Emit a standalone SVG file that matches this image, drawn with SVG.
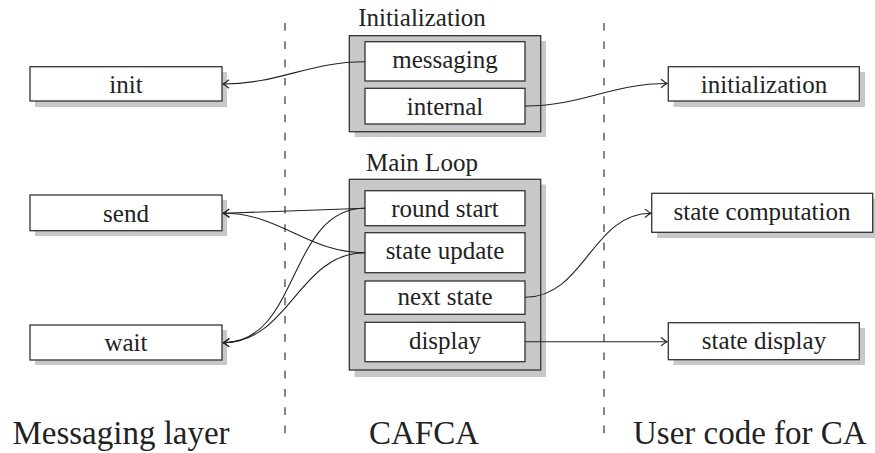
<svg xmlns="http://www.w3.org/2000/svg" width="875" height="453" viewBox="0 0 875 453">
<defs>
<marker id="arr" markerUnits="userSpaceOnUse" markerWidth="14" markerHeight="14" viewBox="-8 -7 10 14" refX="0" refY="0" orient="auto">
<path d="M-6,-4.2 Q-2,-1 0,0 Q-2,1 -6,4.2" fill="none" stroke="#222" stroke-width="1.1"/>
</marker>
</defs>
<g id="separators" stroke="#222" stroke-width="1.1" stroke-dasharray="7.7 10.6">
<line x1="285" y1="23" x2="285" y2="440"/>
<line x1="604" y1="23" x2="604" y2="440"/>
</g>
<g font-family="Liberation Serif" font-size="25" text-anchor="middle" fill="#222">
<g id="init">
<rect fill="#c8c8ca" x="35" y="72" width="192" height="35"/>
<rect fill="#fff" stroke="#333" stroke-width="1.3" x="30" y="66.7" width="192" height="34.3"/>
<text x="126" y="92.5">init</text>
</g>
<g id="send">
<rect fill="#c8c8ca" x="35" y="200" width="192" height="36"/>
<rect fill="#fff" stroke="#333" stroke-width="1.3" x="30" y="195" width="192" height="35.7"/>
<text x="126" y="222">send</text>
</g>
<g id="wait">
<rect fill="#c8c8ca" x="35" y="330" width="192" height="35"/>
<rect fill="#fff" stroke="#333" stroke-width="1.3" x="30" y="325" width="192" height="35"/>
<text x="126" y="351">wait</text>
</g>
<g id="initialization-group">
<text x="422" y="26">Initialization</text>
<rect fill="#c8c8ca" x="354.5" y="41" width="191.5" height="96"/>
<rect fill="#c8c8ca" stroke="#333" stroke-width="1.3" x="349.3" y="35.7" width="191.4" height="96"/>
</g>
<g id="messaging">
<rect fill="#fff" stroke="#333" stroke-width="1.3" x="365" y="41.7" width="160" height="39.3"/>
<text x="445" y="68.3">messaging</text>
</g>
<g id="internal">
<rect fill="#fff" stroke="#333" stroke-width="1.3" x="365" y="88.3" width="160" height="35.7"/>
<text x="445" y="115">internal</text>
</g>
<g id="mainloop-group">
<text x="422" y="171">Main Loop</text>
<rect fill="#c8c8ca" x="354.5" y="184.5" width="191.5" height="192.5"/>
<rect fill="#c8c8ca" stroke="#333" stroke-width="1.3" x="349.3" y="179.3" width="191.4" height="190.7"/>
</g>
<g id="round-start">
<rect fill="#fff" stroke="#333" stroke-width="1.3" x="365" y="190.7" width="160" height="35"/>
<text x="445" y="217.3">round start</text>
</g>
<g id="state-update">
<rect fill="#fff" stroke="#333" stroke-width="1.3" x="365" y="232.7" width="160" height="40"/>
<text x="445" y="259">state update</text>
</g>
<g id="next-state">
<rect fill="#fff" stroke="#333" stroke-width="1.3" x="365" y="281" width="160" height="33.3"/>
<text x="445" y="304.5">next state</text>
</g>
<g id="display">
<rect fill="#fff" stroke="#333" stroke-width="1.3" x="365" y="322.3" width="160" height="39.4"/>
<text x="445" y="349">display</text>
</g>
<g id="initialization">
<rect fill="#c8c8ca" x="673.5" y="72" width="191.5" height="35"/>
<rect fill="#fff" stroke="#333" stroke-width="1.3" x="668.3" y="66.7" width="191" height="34.3"/>
<text x="764" y="92.7">initialization</text>
</g>
<g id="state-computation">
<rect fill="#c8c8ca" x="657" y="198.5" width="221" height="39.5"/>
<rect fill="#fff" stroke="#333" stroke-width="1.3" x="651.7" y="193.3" width="221" height="39"/>
<text x="762" y="220">state computation</text>
</g>
<g id="state-display">
<rect fill="#c8c8ca" x="673.5" y="328" width="191.5" height="37"/>
<rect fill="#fff" stroke="#333" stroke-width="1.3" x="668.3" y="322.7" width="191" height="37"/>
<text x="764" y="349">state display</text>
</g>
<g id="column-labels" font-size="33">
<text x="121" y="444">Messaging layer</text>
<text x="424" y="444">CAFCA</text>
<text x="633" y="444" text-anchor="start">User code for CA</text>
</g>
</g>
<g id="connectors" fill="none" stroke="#222" stroke-width="1.1" marker-end="url(#arr)">
<path d="M365,61.7 C309,61.7 279,84 223,84"/>
<path d="M525,106 C581,106 612,83.5 667,83.5"/>
<path d="M365,208.3 L223.3,213.3"/>
<path d="M365,252.7 C307,252.7 281,213.3 223.3,213.3"/>
<path d="M365,208.3 C288,208.3 300,342.7 223.3,342.7"/>
<path d="M365,252.7 C299,252.7 289,342.7 223.3,342.7"/>
<path d="M525,297.3 C584.6,297.3 592,213.3 651,213.3"/>
<path d="M525,341.7 L667,341.7"/>
</g>
</svg>
